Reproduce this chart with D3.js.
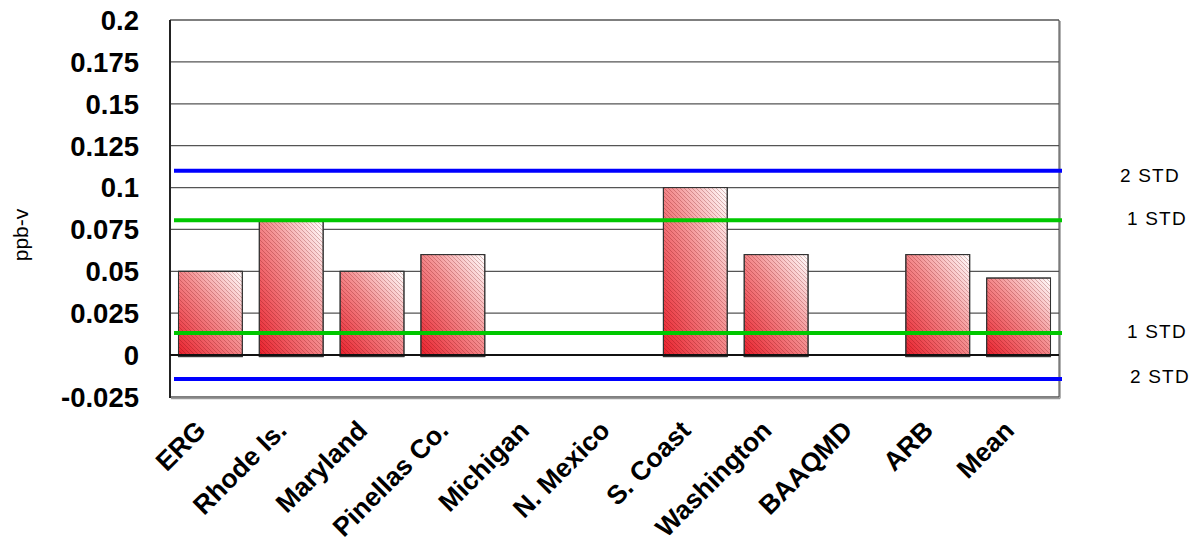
<!DOCTYPE html>
<html><head><meta charset="utf-8">
<script src="https://cdn.jsdelivr.net/npm/d3@7"></script>
<style>body{margin:0;background:#fff;}svg{display:block;font-family:"Liberation Sans",Arial,sans-serif;}</style>
</head><body><svg id="c" width="1198" height="550"></svg>
<script>
const categories = ["ERG","Rhode Is.","Maryland","Pinellas Co.","Michigan","N. Mexico","S. Coast","Washington","BAAQMD","ARB","Mean"];
const values = [0.05,0.08,0.05,0.06,0,0,0.10,0.06,0,0.06,0.046];
const yTicks = [-0.025,0,0.025,0.05,0.075,0.1,0.125,0.15,0.175,0.2];
const yTickLabels = ["-0.025","0","0.025","0.05","0.075","0.1","0.125","0.15","0.175","0.2"];
const stdValues = [0.11,0.0805,0.0132,-0.0143];
const stdLabels = ["2 STD","1 STD","1 STD","2 STD"];
const stdColors = ["#0000ff","#00c800","#00c800","#0000ff"];
const yLabel = "ppb-v";

const svg = d3.select("#c");
const L = 170, R = 1059, T = 20, B = 397;
const x = d3.scaleBand().domain(categories).range([L, R]).paddingInner(0.21).paddingOuter(0.105);
const y = d3.scaleLinear().domain([-0.025, 0.2]).range([B, T]);

const defs = svg.append("defs");
const grad = defs.append("linearGradient").attr("id","g").attr("x1",0).attr("y1",1).attr("x2",1).attr("y2",0);
grad.append("stop").attr("offset","0%").attr("stop-color","#e8202c");
grad.append("stop").attr("offset","55%").attr("stop-color","#f49092");
grad.append("stop").attr("offset","100%").attr("stop-color","#ffffff");
const pat = defs.append("pattern").attr("id","h").attr("patternUnits","userSpaceOnUse").attr("width",4).attr("height",4);
pat.append("path").attr("d","M-1,-1 L5,5 M-1,3 L1,5 M3,-1 L5,1").attr("stroke","rgba(110,0,0,0.28)").attr("stroke-width",0.9);

// gridlines
svg.append("g").selectAll("line").data(yTicks).join("line")
  .attr("x1", L).attr("x2", R).attr("y1", d => y(d)).attr("y2", d => y(d))
  .attr("stroke", "#555").attr("stroke-width", 1.3);
// frame shadow
svg.append("line").attr("x1",L+1).attr("x2",R+1).attr("y1",B+1.5).attr("y2",B+1.5).attr("stroke","#999").attr("stroke-width",1.5);
svg.append("line").attr("x1",R+1).attr("x2",R+1).attr("y1",T+1).attr("y2",B+1.5).attr("stroke","#999").attr("stroke-width",1.5);
svg.append("line").attr("x1",R).attr("x2",R).attr("y1",T).attr("y2",B).attr("stroke","#444").attr("stroke-width",1);
svg.append("line").attr("x1",L).attr("x2",L).attr("y1",T).attr("y2",B+1).attr("stroke","#222").attr("stroke-width",2);

// bars
const bars = svg.append("g");
bars.selectAll("rect.f").data(values).join("rect").attr("class","f")
  .attr("x", (d,i) => x(categories[i])).attr("width", x.bandwidth())
  .attr("y", d => y(Math.max(d,0))).attr("height", d => Math.abs(y(d) - y(0)) + 1.5)
  .attr("fill","url(#g)").attr("stroke","#333").attr("stroke-width",1)
  .style("display", d => d === 0 ? "none" : null);
bars.selectAll("rect.p").data(values).join("rect").attr("class","p")
  .attr("x", (d,i) => x(categories[i])).attr("width", x.bandwidth())
  .attr("y", d => y(Math.max(d,0))).attr("height", d => Math.abs(y(d) - y(0)) + 1.5)
  .attr("fill","url(#h)").attr("stroke","#333").attr("stroke-width",1)
  .style("display", d => d === 0 ? "none" : null);

// zero line
svg.append("line").attr("x1",L).attr("x2",R).attr("y1",y(0)).attr("y2",y(0)).attr("stroke","#111").attr("stroke-width",2);

// std lines
svg.append("g").selectAll("line").data(stdValues).join("line")
  .attr("x1", L + 4).attr("x2", R + 3).attr("y1", d => y(d)).attr("y2", d => y(d))
  .attr("stroke", (d,i) => stdColors[i]).attr("stroke-width", 4);

const lblX = [1120, 1127, 1127, 1130];
const lblDy = [5, -2, -2, -3];
svg.append("g").selectAll("text").data(stdLabels).join("text")
  .attr("x", (d,i) => lblX[i]).attr("y", (d,i) => y(stdValues[i]) + lblDy[i])
  .attr("dy","0.35em").attr("font-size", 19).attr("letter-spacing", 1.2).attr("fill","#000")
  .text(d => d);

// y ticks
svg.append("g").selectAll("text").data(yTicks).join("text")
  .attr("x", 139).attr("y", d => y(d)).attr("dy","0.36em")
  .attr("text-anchor","end").attr("font-size", 27.5).attr("font-weight","bold")
  .text((d,i) => yTickLabels[i]);

// y label
svg.append("text").attr("transform","translate(28,235) rotate(-90)")
  .attr("text-anchor","middle").attr("font-size", 21).text(yLabel);

// x labels
svg.append("g").selectAll("text").data(categories).join("text")
  .attr("transform", d => `translate(${x(d) + x.bandwidth()/2 - 3},432) rotate(-45)`)
  .attr("text-anchor","end").attr("font-size", 26.5).attr("font-weight","bold")
  .text(d => d);
</script></body></html>
